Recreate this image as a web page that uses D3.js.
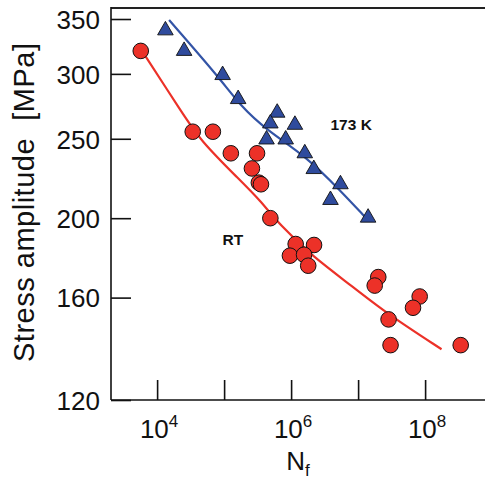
<!DOCTYPE html>
<html>
<head>
<meta charset="utf-8">
<script src="https://cdn.jsdelivr.net/npm/d3@7"></script>
<style>
  html, body { margin: 0; padding: 0; background: #fff; }
  svg { display: block; font-family: "Liberation Sans", Arial, Helvetica, sans-serif; }
</style>
</head>
<body>
<div id="chart"></div>
<script>
// ---- data ----
const rtN = [5.7e3, 3.4e4, 6.8e4, 1.26e5, 2.6e5, 3.1e5, 3.3e5, 3.55e5, 4.9e5, 1.17e6, 2.2e6, 9.6e5, 1.56e6, 1.8e6, 2.0e7, 1.77e7, 8.3e7, 6.6e7, 2.85e7, 3.05e7, 3.4e8];
const rtS = [320, 255, 255, 240, 230, 240, 221, 220, 200, 186, 185.5, 180, 180.5, 175, 169.5, 165.5, 160.5, 155.5, 150.5, 140, 140];

const lowN = [1.33e4, 2.53e4, 9.5e4, 1.62e5, 6.2e5, 4.9e5, 1.14e6, 4.3e5, 8.3e5, 1.6e6, 2.18e6, 5.45e6, 3.87e6, 1.41e7];
const lowS = [339, 320, 299, 279.5, 269, 261, 260, 249.5, 249.5, 240, 229.6, 220, 210.5, 200.3];

const rtFitN = [5.85e3, 2.31e4, 4.34e4, 1.71e5, 3.41e5, 6.78e5, 2.11e6, 8.34e6, 2.65e7, 1.76e8];
const rtFitS = [320.8, 269.7, 249.1, 222.7, 210.5, 196.2, 179.5, 165.0, 153.1, 138.4];
const lowFitN = [1.51e4, 8.63e4, 1.71e5, 4.30e5, 1.70e6, 5.33e6, 1.33e7];
const lowFitS = [349, 296.3, 274.9, 256.2, 237.7, 216.5, 199.9];

const yTicks = [120, 160, 200, 250, 300, 350];
const xTicks = [1e4, 1e5, 1e6, 1e7, 1e8];
const xLabelExps = [4, 6, 8];
const seriesNames = ["173 K", "RT"];

// ---- layout ----
const W = 485, H = 479;
const pLeft = 111, pTop = 8, pBottom = 400;
const x = d3.scaleLog().domain([2.05e3, 1e9]).range([pLeft, 492.1]);
const y = d3.scaleLog().domain([120, 361]).range([pBottom, pTop]);

const red = "#ec3128", blue = "#2f4b9d", blueLine = "#3354a6";

const svg = d3.select("#chart").append("svg").attr("width", W).attr("height", H);

// frame
svg.append("line").attr("x1", pLeft).attr("x2", W).attr("y1", pTop).attr("y2", pTop)
  .attr("stroke", "#222").attr("stroke-width", 2);
svg.append("line").attr("x1", pLeft).attr("x2", W).attr("y1", pBottom).attr("y2", pBottom)
  .attr("stroke", "#111").attr("stroke-width", 1.6);
svg.append("line").attr("x1", pLeft).attr("x2", pLeft).attr("y1", pTop - 1).attr("y2", pBottom)
  .attr("stroke", "#111").attr("stroke-width", 1.6);

// y axis (ticks inward)
const yAxis = d3.axisLeft(y).tickValues(yTicks).tickSize(-20).tickPadding(11)
  .tickFormat(d3.format("d"));
const gy = svg.append("g").attr("transform", `translate(${pLeft},0)`).call(yAxis);
gy.select(".domain").remove();
gy.selectAll(".tick line").attr("stroke", "#111").attr("stroke-width", 1.6);
gy.selectAll(".tick text").attr("font-size", 26).attr("fill", "#111")
  .attr("font-family", "Liberation Sans, Arial, sans-serif").attr("dy", "0.36em")
  .attr("x", 100 - pLeft);

// x axis (ticks inward)
const xAxis = d3.axisBottom(x).tickValues(xTicks).tickSize(-20).tickFormat("");
const gx = svg.append("g").attr("transform", `translate(0,${pBottom})`).call(xAxis);
gx.select(".domain").remove();
gx.selectAll(".tick line").attr("stroke", "#111").attr("stroke-width", 1.6);

// x tick labels 10^n
xLabelExps.forEach(e => {
  const t = svg.append("text").attr("x", x(Math.pow(10, e)) + 2).attr("y", 438)
    .attr("text-anchor", "middle").attr("font-size", 26).attr("fill", "#111");
  t.append("tspan").text("10");
  t.append("tspan").attr("font-size", 17).attr("dy", -11).text(String(e));
});

// axis titles
const xt = svg.append("text").attr("x", 298).attr("y", 470).attr("text-anchor", "middle")
  .attr("font-size", 26).attr("fill", "#111");
xt.append("tspan").text("N");
xt.append("tspan").attr("font-size", 17).attr("dy", 6).text("f");

svg.append("text")
  .attr("transform", `translate(33.5,202.5) rotate(-90)`)
  .attr("text-anchor", "middle").attr("font-size", 29).attr("fill", "#111")
  .attr("textLength", 319).attr("lengthAdjust", "spacing")
  .text("Stress amplitude\u00a0 [MPa]");

// fit lines
const line = d3.line().curve(d3.curveBasis).x(d => x(d[0])).y(d => y(d[1]));
svg.append("path").datum(d3.zip(rtFitN, rtFitS)).attr("d", line)
  .attr("fill", "none").attr("stroke", red).attr("stroke-width", 2.2);
svg.append("path").datum(d3.zip(lowFitN, lowFitS)).attr("d", line)
  .attr("fill", "none").attr("stroke", blueLine).attr("stroke-width", 2.2);

// markers
svg.append("g").selectAll("path").data(d3.zip(lowN, lowS)).join("path")
  .attr("d", d3.symbol(d3.symbolTriangle, 105))
  .attr("transform", d => `translate(${x(d[0])},${y(d[1])})`)
  .attr("fill", blue).attr("stroke", "#111").attr("stroke-width", 0.9);

svg.append("g").selectAll("circle").data(d3.zip(rtN, rtS)).join("circle")
  .attr("cx", d => x(d[0])).attr("cy", d => y(d[1])).attr("r", 7.8)
  .attr("fill", red).attr("stroke", "#111").attr("stroke-width", 1);

// series labels
svg.append("text").attr("x", 330.5).attr("y", 130).attr("font-size", 15.5)
  .attr("font-weight", "bold").attr("fill", "#111").text(seriesNames[0]);
svg.append("text").attr("x", 222.5).attr("y", 245).attr("font-size", 15.5)
  .attr("font-weight", "bold").attr("fill", "#111").text(seriesNames[1]);
</script>
</body>
</html>
